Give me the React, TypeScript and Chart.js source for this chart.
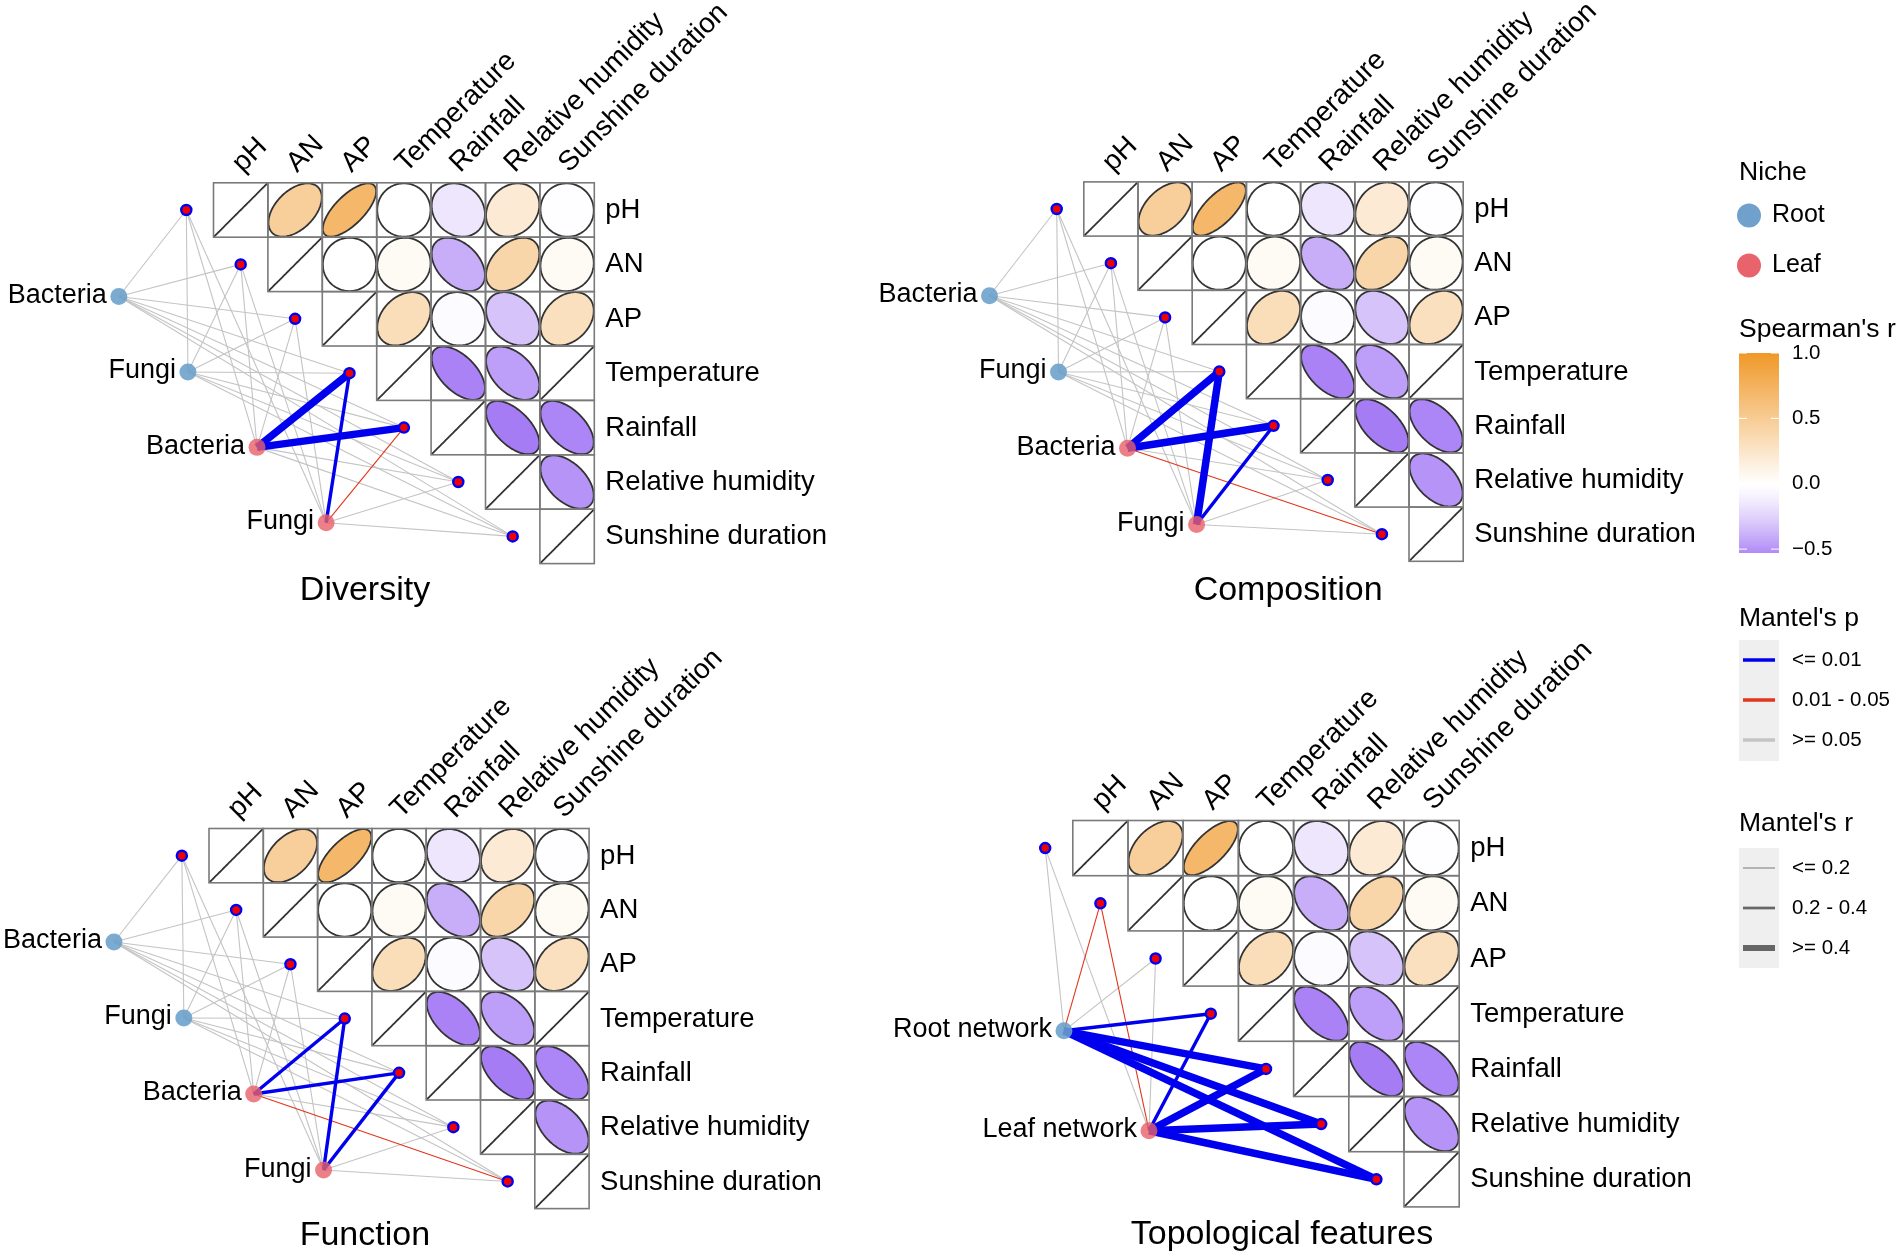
import React, { useEffect, useRef } from "react";
import { Chart, registerables } from "chart.js";

Chart.register(...registerables);

const W = 1902;
const H = 1259;
const FONT = '"Liberation Sans", Arial, Helvetica, sans-serif';

// ---------------- data ----------------
const envVars = ["pH", "AN", "AP", "Temperature", "Rainfall", "Relative humidity", "Sunshine duration"];

// Spearman's r, upper triangle: row i holds columns i..6
const corrPH = [1, 0.47, 0.7, 0, -0.16, 0.2, -0.02];
const corrAN = [1, 0, 0.05, -0.4, 0.4, 0.05];
const corrAP = [1, 0.32, -0.04, -0.32, 0.3];
const corrTemperature = [1, -0.56, -0.46, 1];
const corrRainfall = [1, -0.58, -0.55];
const corrHumidity = [1, -0.5];
const corrSunshine = [1];
const corrRows = [corrPH, corrAN, corrAP, corrTemperature, corrRainfall, corrHumidity, corrSunshine];

const panelTitles = ["Diversity", "Composition", "Function", "Topological features"];

const microbeSpecs = ["Bacteria", "Fungi", "Bacteria", "Fungi"];
const microbeNiches = ["Root", "Root", "Leaf", "Leaf"];
const networkSpecs = ["Root network", "Leaf network"];
const networkNiches = ["Root", "Leaf"];

// Mantel's r / p : rows = specs, columns = envVars
const diversityR = [
  [0.06, 0.05, 0.08, 0.11, 0.09, 0.04, 0.07],
  [0.05, 0.07, 0.04, 0.1, 0.08, 0.06, 0.05],
  [0.07, 0.09, 0.05, 0.52, 0.48, 0.12, 0.1],
  [0.04, 0.06, 0.08, 0.31, 0.17, 0.09, 0.11],
];
const diversityP = [
  [0.52, 0.61, 0.33, 0.18, 0.27, 0.74, 0.41],
  [0.58, 0.29, 0.66, 0.21, 0.35, 0.47, 0.55],
  [0.38, 0.24, 0.57, 0.001, 0.001, 0.12, 0.19],
  [0.69, 0.43, 0.31, 0.004, 0.028, 0.26, 0.16],
];
const compositionR = [
  [0.08, 0.06, 0.09, 0.13, 0.1, 0.07, 0.09],
  [0.07, 0.08, 0.05, 0.12, 0.09, 0.06, 0.08],
  [0.06, 0.1, 0.07, 0.55, 0.5, 0.13, 0.15],
  [0.05, 0.08, 0.09, 0.46, 0.32, 0.11, 0.12],
];
const compositionP = [
  [0.41, 0.55, 0.27, 0.13, 0.22, 0.63, 0.34],
  [0.47, 0.36, 0.71, 0.15, 0.3, 0.52, 0.44],
  [0.62, 0.2, 0.49, 0.001, 0.001, 0.09, 0.037],
  [0.73, 0.39, 0.25, 0.001, 0.003, 0.11, 0.08],
];
const functionR = [
  [0.05, 0.07, 0.06, 0.1, 0.08, 0.05, 0.06],
  [0.06, 0.05, 0.07, 0.09, 0.11, 0.04, 0.07],
  [0.07, 0.08, 0.06, 0.29, 0.34, 0.1, 0.14],
  [0.05, 0.06, 0.09, 0.31, 0.3, 0.08, 0.1],
];
const functionP = [
  [0.56, 0.42, 0.49, 0.23, 0.31, 0.68, 0.5],
  [0.45, 0.63, 0.38, 0.26, 0.19, 0.77, 0.4],
  [0.36, 0.3, 0.53, 0.002, 0.001, 0.14, 0.032],
  [0.64, 0.48, 0.22, 0.004, 0.002, 0.2, 0.12],
];
const topologyR = [
  [0.09, 0.15, 0.11, 0.36, 0.61, 0.58, 0.55],
  [0.08, 0.17, 0.1, 0.31, 0.53, 0.5, 0.57],
];
const topologyP = [
  [0.21, 0.031, 0.14, 0.004, 0.001, 0.001, 0.001],
  [0.33, 0.022, 0.19, 0.006, 0.001, 0.001, 0.001],
];

const spearmanTicks = [1, 0.5, 0, -0.5];
const spearmanTickLabels = ["1.0", "0.5", "0.0", "\u22120.5"];
const mantelPLabels = ["<= 0.01", "0.01 - 0.05", ">= 0.05"];
const mantelPSamples = [0.001, 0.03, 0.5];
const mantelRLabels = ["<= 0.2", "0.2 - 0.4", ">= 0.4"];
const mantelRSamples = [0.1, 0.3, 0.5];

// ---------------- layout (pixels / cell units) ----------------
const panelLayout = [
  { left: 213.5, top: 182.8, cell: 54.4, specFrom: [-1.74, 2.09], specTo: [2.07, 6.25], titleAt: [2.785, 7.5] },
  { left: 1083.8, top: 181.9, cell: 54.2, specFrom: [-1.74, 2.1], specTo: [2.08, 6.32], titleAt: [3.77, 7.55] },
  { left: 209, top: 828.5, cell: 54.3, specFrom: [-1.75, 2.09], specTo: [2.11, 6.29], titleAt: [2.87, 7.49] },
  { left: 1072.8, top: 820.5, cell: 55.2, specFrom: [-0.16, 3.81], specTo: [1.38, 5.62], titleAt: [3.79, 7.51] },
];

const panels = [
  { title: panelTitles[0], specs: microbeSpecs, niches: microbeNiches, r: diversityR, p: diversityP },
  { title: panelTitles[1], specs: microbeSpecs, niches: microbeNiches, r: compositionR, p: compositionP },
  { title: panelTitles[2], specs: microbeSpecs, niches: microbeNiches, r: functionR, p: functionP },
  { title: panelTitles[3], specs: networkSpecs, niches: networkNiches, r: topologyR, p: topologyP },
];

// ---------------- styles ----------------
const ORANGE = [240, 152, 40];
const PURPLE = [166, 124, 245];
const mix = (c: number[], t: number) => {
  const v = c.map((x) => Math.round(255 + (x - 255) * t));
  return `rgb(${v[0]},${v[1]},${v[2]})`;
};
const corrColor = (r: number) =>
  r >= 0 ? mix(ORANGE, Math.min(r, 1)) : mix(PURPLE, Math.pow(Math.min(-r / 0.58, 1), 1.3));

const pColor = (p: number) => (p <= 0.01 ? "#0000EE" : p <= 0.05 ? "#E4341C" : "#C4C4C4");
const pOrder = (p: number) => (p <= 0.01 ? 1 : p <= 0.05 ? 2 : 3);
const rWidth = (r: number) => (r < 0.2 ? 1.1 : r < 0.4 ? 3.4 : 7.5);
const nicheColor = (n: string) => (n === "Root" ? "rgba(106,159,203,0.88)" : "rgba(232,96,104,0.8)");
const nicheLegendColor = (n: string) => (n === "Root" ? "#6FA1CC" : "#E8636B");

const specPositions = (k: number) => {
  const L = panelLayout[k];
  const n = panels[k].specs.length;
  return panels[k].specs.map((_, s) => {
    const t = n > 1 ? s / (n - 1) : 0;
    return {
      x: L.specFrom[0] + t * (L.specTo[0] - L.specFrom[0]),
      y: L.specFrom[1] + t * (L.specTo[1] - L.specFrom[1]),
    };
  });
};
const envPositions = envVars.map((_, j) => ({ x: j - 0.5, y: j + 0.5 }));

function buildDatasets() {
  const ds: any[] = [];
  panels.forEach((pn, k) => {
    const sp = specPositions(k);
    pn.specs.forEach((_, s) => {
      envVars.forEach((_, j) => {
        const p = pn.p[s][j];
        const r = pn.r[s][j];
        ds.push({
          data: [sp[s], envPositions[j]],
          showLine: true,
          borderColor: pColor(p),
          borderWidth: rWidth(r),
          borderCapStyle: "butt",
          pointRadius: 0,
          fill: false,
          xAxisID: `x${k}`,
          yAxisID: `y${k}`,
          order: pOrder(p),
        });
      });
    });
    ds.push({
      data: envPositions,
      pointRadius: 5,
      pointBackgroundColor: "#F20000",
      pointBorderColor: "#0000F0",
      pointBorderWidth: 2.5,
      xAxisID: `x${k}`,
      yAxisID: `y${k}`,
      order: 0,
    });
    ds.push({
      data: sp,
      pointRadius: 8.5,
      pointBorderWidth: 0,
      pointBackgroundColor: pn.niches.map(nicheColor),
      pointBorderColor: "rgba(0,0,0,0)",
      xAxisID: `x${k}`,
      yAxisID: `y${k}`,
      order: 0,
    });
  });
  return ds;
}

const decorPlugin = {
  id: "decor",
  beforeDatasetsDraw(chart: any) {
    const ctx = chart.ctx;
    panels.forEach((_, k) => {
      const xs = chart.scales[`x${k}`];
      const ys = chart.scales[`y${k}`];
      for (let i = 0; i < 7; i++) {
        for (let j = i; j < 7; j++) {
          const r = corrRows[i][j - i];
          const x0 = xs.getPixelForValue(j);
          const x1 = xs.getPixelForValue(j + 1);
          const y0 = ys.getPixelForValue(i);
          const y1 = ys.getPixelForValue(i + 1);
          const cx = (x0 + x1) / 2;
          const cy = (y0 + y1) / 2;
          const hw = (x1 - x0) * 0.49;
          const hh = (y1 - y0) * 0.49;
          const d = Math.acos(Math.max(-1, Math.min(1, r)));
          ctx.save();
          ctx.beginPath();
          const N = 140;
          for (let s = 0; s <= N; s++) {
            const t = (s / N) * Math.PI * 2;
            const px = cx + hw * Math.cos(t + d / 2);
            const py = cy - hh * Math.cos(t - d / 2);
            if (s === 0) ctx.moveTo(px, py);
            else ctx.lineTo(px, py);
          }
          ctx.closePath();
          if (Math.abs(r) < 0.999) {
            ctx.fillStyle = corrColor(r);
            ctx.fill();
          }
          ctx.strokeStyle = "#333333";
          ctx.lineWidth = 1.8;
          ctx.stroke();
          ctx.strokeStyle = "#7a7a7a";
          ctx.lineWidth = 1.6;
          ctx.strokeRect(x0, y0, x1 - x0, y1 - y0);
          ctx.restore();
        }
      }
    });
  },
  afterDatasetsDraw(chart: any) {
    const ctx = chart.ctx;
    ctx.save();
    ctx.fillStyle = "#000";
    panels.forEach((pn, k) => {
      const xs = chart.scales[`x${k}`];
      const ys = chart.scales[`y${k}`];
      const L = panelLayout[k];
      // row labels
      ctx.font = `27.5px ${FONT}`;
      ctx.textAlign = "left";
      ctx.textBaseline = "middle";
      envVars.forEach((name, i) => {
        ctx.fillText(name, xs.getPixelForValue(7) + 11, ys.getPixelForValue(i + 0.5) + 0.5);
      });
      // column labels (rotated 45°)
      ctx.font = `28px ${FONT}`;
      envVars.forEach((name, j) => {
        const ax = xs.getPixelForValue(j + 0.5) + 2;
        const ay = ys.getPixelForValue(0) - 9.5;
        ctx.save();
        ctx.translate(ax, ay);
        ctx.rotate(-Math.PI / 4);
        ctx.textAlign = "left";
        ctx.textBaseline = "alphabetic";
        ctx.fillText(name, 0, 0);
        ctx.restore();
      });
      // spec labels
      ctx.font = `27px ${FONT}`;
      const sp = specPositions(k);
      ctx.textAlign = "right";
      ctx.textBaseline = "middle";
      pn.specs.forEach((name, s) => {
        ctx.fillText(name, xs.getPixelForValue(sp[s].x) - 12, ys.getPixelForValue(sp[s].y) - 1);
      });
      // title
      ctx.font = `34px ${FONT}`;
      ctx.textAlign = "center";
      ctx.fillText(pn.title, xs.getPixelForValue(L.titleAt[0]), ys.getPixelForValue(L.titleAt[1]));
    });

    // ---------- legend ----------
    const lx = 1739;
    ctx.textAlign = "left";
    ctx.textBaseline = "middle";
    ctx.font = `26.5px ${FONT}`;
    ctx.fillText("Niche", lx, 173);
    ctx.font = `25px ${FONT}`;
    ["Root", "Leaf"].forEach((n, i) => {
      const y = 215.5 + i * 50;
      ctx.beginPath();
      ctx.fillStyle = nicheLegendColor(n);
      ctx.arc(lx + 10, y, 12, 0, Math.PI * 2);
      ctx.fill();
      ctx.fillStyle = "#000";
      ctx.fillText(n, lx + 33, y);
    });

    ctx.font = `26.5px ${FONT}`;
    ctx.fillText("Spearman's r", lx, 330);
    const barTop = 353;
    const barBot = 553;
    const vTop = 1;
    const vBot = -0.53;
    const yOf = (v: number) => barTop + ((vTop - v) / (vTop - vBot)) * (barBot - barTop);
    for (let y = barTop; y < barBot; y++) {
      const v = vTop - ((y + 0.5 - barTop) / (barBot - barTop)) * (vTop - vBot);
      ctx.fillStyle = corrColor(v);
      ctx.fillRect(lx, y, 40, 1);
    }
    ctx.strokeStyle = "#fff";
    ctx.lineWidth = 1;
    ctx.font = `20.5px ${FONT}`;
    spearmanTicks.forEach((v, i) => {
      const y = yOf(v);
      ctx.beginPath();
      ctx.moveTo(lx, y);
      ctx.lineTo(lx + 8, y);
      ctx.moveTo(lx + 32, y);
      ctx.lineTo(lx + 40, y);
      ctx.stroke();
      ctx.fillStyle = "#000";
      ctx.fillText(spearmanTickLabels[i], lx + 53, y);
    });

    ctx.font = `26.5px ${FONT}`;
    ctx.fillStyle = "#000";
    ctx.fillText("Mantel's p", lx, 619);
    ctx.fillStyle = "#EFEFEF";
    ctx.fillRect(lx, 640, 40, 121);
    ctx.font = `20.5px ${FONT}`;
    mantelPSamples.forEach((p, i) => {
      const y = 660 + i * 40;
      ctx.beginPath();
      ctx.strokeStyle = pColor(p);
      ctx.lineWidth = 3.5;
      ctx.moveTo(lx + 4, y);
      ctx.lineTo(lx + 36, y);
      ctx.stroke();
      ctx.fillStyle = "#000";
      ctx.fillText(mantelPLabels[i], lx + 53, y);
    });

    ctx.font = `26.5px ${FONT}`;
    ctx.fillStyle = "#000";
    ctx.fillText("Mantel's r", lx, 824);
    ctx.fillStyle = "#EFEFEF";
    ctx.fillRect(lx, 848, 40, 120);
    ctx.font = `20.5px ${FONT}`;
    mantelRSamples.forEach((r, i) => {
      const y = 868 + i * 40;
      ctx.beginPath();
      ctx.strokeStyle = "#666";
      ctx.lineWidth = rWidth(r) * 0.8;
      ctx.moveTo(lx + 4, y);
      ctx.lineTo(lx + 36, y);
      ctx.stroke();
      ctx.fillStyle = "#000";
      ctx.fillText(mantelRLabels[i], lx + 53, y);
    });
    ctx.restore();
  },
};

export default function App() {
  const ref = useRef<HTMLCanvasElement>(null);
  useEffect(() => {
    const scales: any = {};
    panelLayout.forEach((L, k) => {
      scales[`x${k}`] = {
        type: "linear",
        display: false,
        min: -L.left / L.cell,
        max: (W - L.left) / L.cell,
      };
      scales[`y${k}`] = {
        type: "linear",
        display: false,
        reverse: true,
        min: -L.top / L.cell,
        max: (H - L.top) / L.cell,
      };
    });
    const chart = new Chart(ref.current as HTMLCanvasElement, {
      type: "scatter",
      data: { datasets: buildDatasets() },
      options: {
        responsive: false,
        animation: false,
        devicePixelRatio: 1,
        events: [],
        layout: { padding: 0, autoPadding: false },
        plugins: { legend: { display: false }, tooltip: { enabled: false } },
        scales,
      } as any,
      plugins: [decorPlugin as any],
    });
    return () => chart.destroy();
  }, []);
  return (
    <div style={{ position: "absolute", left: 0, top: 0, width: W, height: H, background: "#fff" }}>
      <canvas ref={ref} width={W} height={H} style={{ width: W, height: H, display: "block" }} />
    </div>
  );
}
